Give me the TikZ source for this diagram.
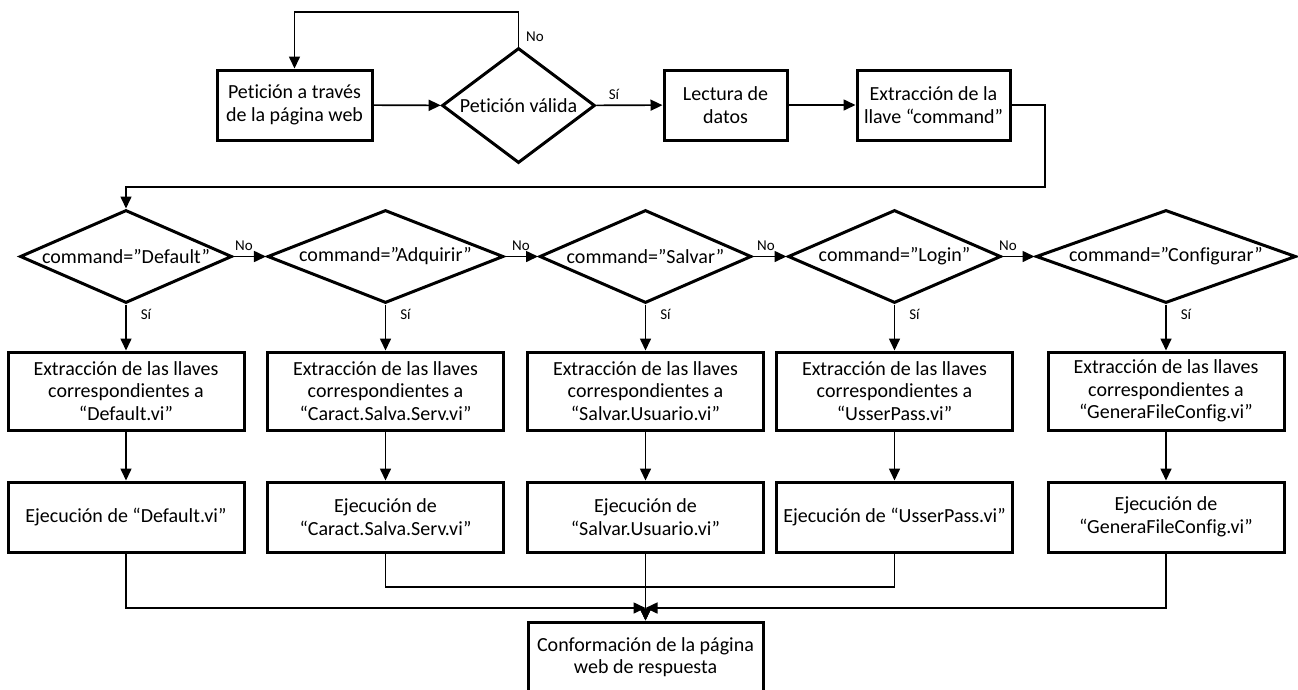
\documentclass[tikz,border=0pt]{standalone}
\usepackage{fontspec}
\setmainfont[Ligatures=NoCommon]{Carlito}
\usetikzlibrary{shapes.geometric,arrows.meta}
\begin{document}
\begin{tikzpicture}[x=1pt,y=-1pt,
  box/.style={draw,line width=3pt,rectangle,inner sep=0pt,align=center,
    minimum width=236pt,font=\fontsize{20}{22.5}\selectfont},
  dec/.style={draw,line width=3pt,diamond,inner sep=0pt,minimum height=93pt,
    font=\fontsize{20}{22.5}\selectfont},
  conn/.style={line width=1.6pt,-{Triangle[length=12pt,width=11pt]}},
  lbl/.style={font=\fontsize{15}{17}\selectfont,inner sep=0pt}]
\useasboundingbox (0,0) rectangle (1298,689);

% top row
\node[box,minimum width=155pt,minimum height=70pt] (req) at (294.5,105) {Petición a través\\de la página web};
\node[dec,minimum width=153pt,minimum height=115pt] (valid) at (518.5,105.5) {\makebox[0pt]{Petición válida}};
\node[box,minimum width=123pt,minimum height=70pt] (read) at (725.5,105) {Lectura de\\datos};
\node[box,minimum width=153pt,minimum height=70pt] (key) at (933.5,105) {Extracción de la\\llave “command”};

\coordinate (loopTop) at (518.5,12);
\draw[conn] (req) -- (valid);
\draw[conn] (valid) -- (read);
\draw[conn] (read) -- (key);
\draw[conn] (valid.north) -- (loopTop) -| (req.north);
\node[lbl] (noTop) at (535,37) {No};
\node[lbl] (siTop) at (614,94) {Sí};

% decisions
\node[dec,minimum width=212pt] (d1) at (126,256.5) {\makebox[0pt]{command=”Default”}};
\node[dec,minimum width=236pt] (d2) at (385.5,256.5) {\makebox[0pt]{command=”Adquirir”}};
\node[dec,minimum width=212pt] (d3) at (645.5,256.5) {\makebox[0pt]{command=”Salvar”}};
\node[dec,minimum width=213pt] (d4) at (894.5,256.5) {\makebox[0pt]{command=”Login”}};
\node[dec,minimum width=260pt] (d5) at (1166,256.5) {\makebox[0pt]{command=”Configurar”}};

\coordinate (kTurn) at (1045,187);
\draw[conn] (key.east) -| (kTurn) -| (d1.north);

\draw[conn] (d1) -- (d2);
\draw[conn] (d2) -- (d3);
\draw[conn] (d3) -- (d4);
\draw[conn] (d4) -- (d5);
\node[lbl] (no1) at (244,246) {No};
\node[lbl] (no2) at (521,246) {No};
\node[lbl] (no3) at (766,246) {No};
\node[lbl] (no4) at (1008,246) {No};

% extraction boxes
\node[box,minimum height=78pt] (x1) at (126,391) {Extracción de las llaves\\correspondientes a\\“Default.vi”};
\node[box,minimum height=78pt] (x2) at (385.5,391) {Extracción de las llaves\\correspondientes a\\“Caract.Salva.Serv.vi”};
\node[box,minimum height=78pt] (x3) at (645.5,391) {Extracción de las llaves\\correspondientes a\\“Salvar.Usuario.vi”};
\node[box,minimum height=78pt] (x4) at (894.5,391) {Extracción de las llaves\\correspondientes a\\“UsserPass.vi”};
\node[box,minimum height=78pt] (x5) at (1166,391) {Extracción de las llaves\\correspondientes a\\“GeneraFileConfig.vi”};

\foreach \i in {1,...,5} {\draw[conn] (d\i) -- (x\i);}
\node[lbl] (si1) at (146,314) {Sí};
\node[lbl] (si2) at (405.5,314) {Sí};
\node[lbl] (si3) at (665.5,314) {Sí};
\node[lbl] (si4) at (914.5,314) {Sí};
\node[lbl] (si5) at (1186,314) {Sí};

% execution boxes
\node[box,minimum height=70pt] (e1) at (126,517) {Ejecución de “Default.vi”};
\node[box,minimum height=70pt] (e2) at (385.5,517) {Ejecución de\\“Caract.Salva.Serv.vi”};
\node[box,minimum height=70pt] (e3) at (645.5,517) {Ejecución de\\“Salvar.Usuario.vi”};
\node[box,minimum height=70pt] (e4) at (894.5,517) {Ejecución de “UsserPass.vi”};
\node[box,minimum height=70pt] (e5) at (1166,517) {Ejecución de\\“GeneraFileConfig.vi”};

\foreach \i in {1,...,5} {\draw[conn] (x\i) -- (e\i);}

% final box
\node[box,minimum width=235pt,minimum height=70pt] (fin) at (645.5,657) {Conformación de la página\\web de respuesta};

\coordinate (mLow) at (645.5,608);
\coordinate (mHigh) at (645.5,587);
\draw[conn] (e1.south) |- (mLow);
\draw[conn] (e5.south) |- (mLow);
\draw[conn] (e2.south) |- (mHigh) -- (fin.north);
\draw[conn] (e4.south) |- (mHigh) -- (fin.north);
\draw[conn] (e3) -- (fin);
\end{tikzpicture}
\end{document}
